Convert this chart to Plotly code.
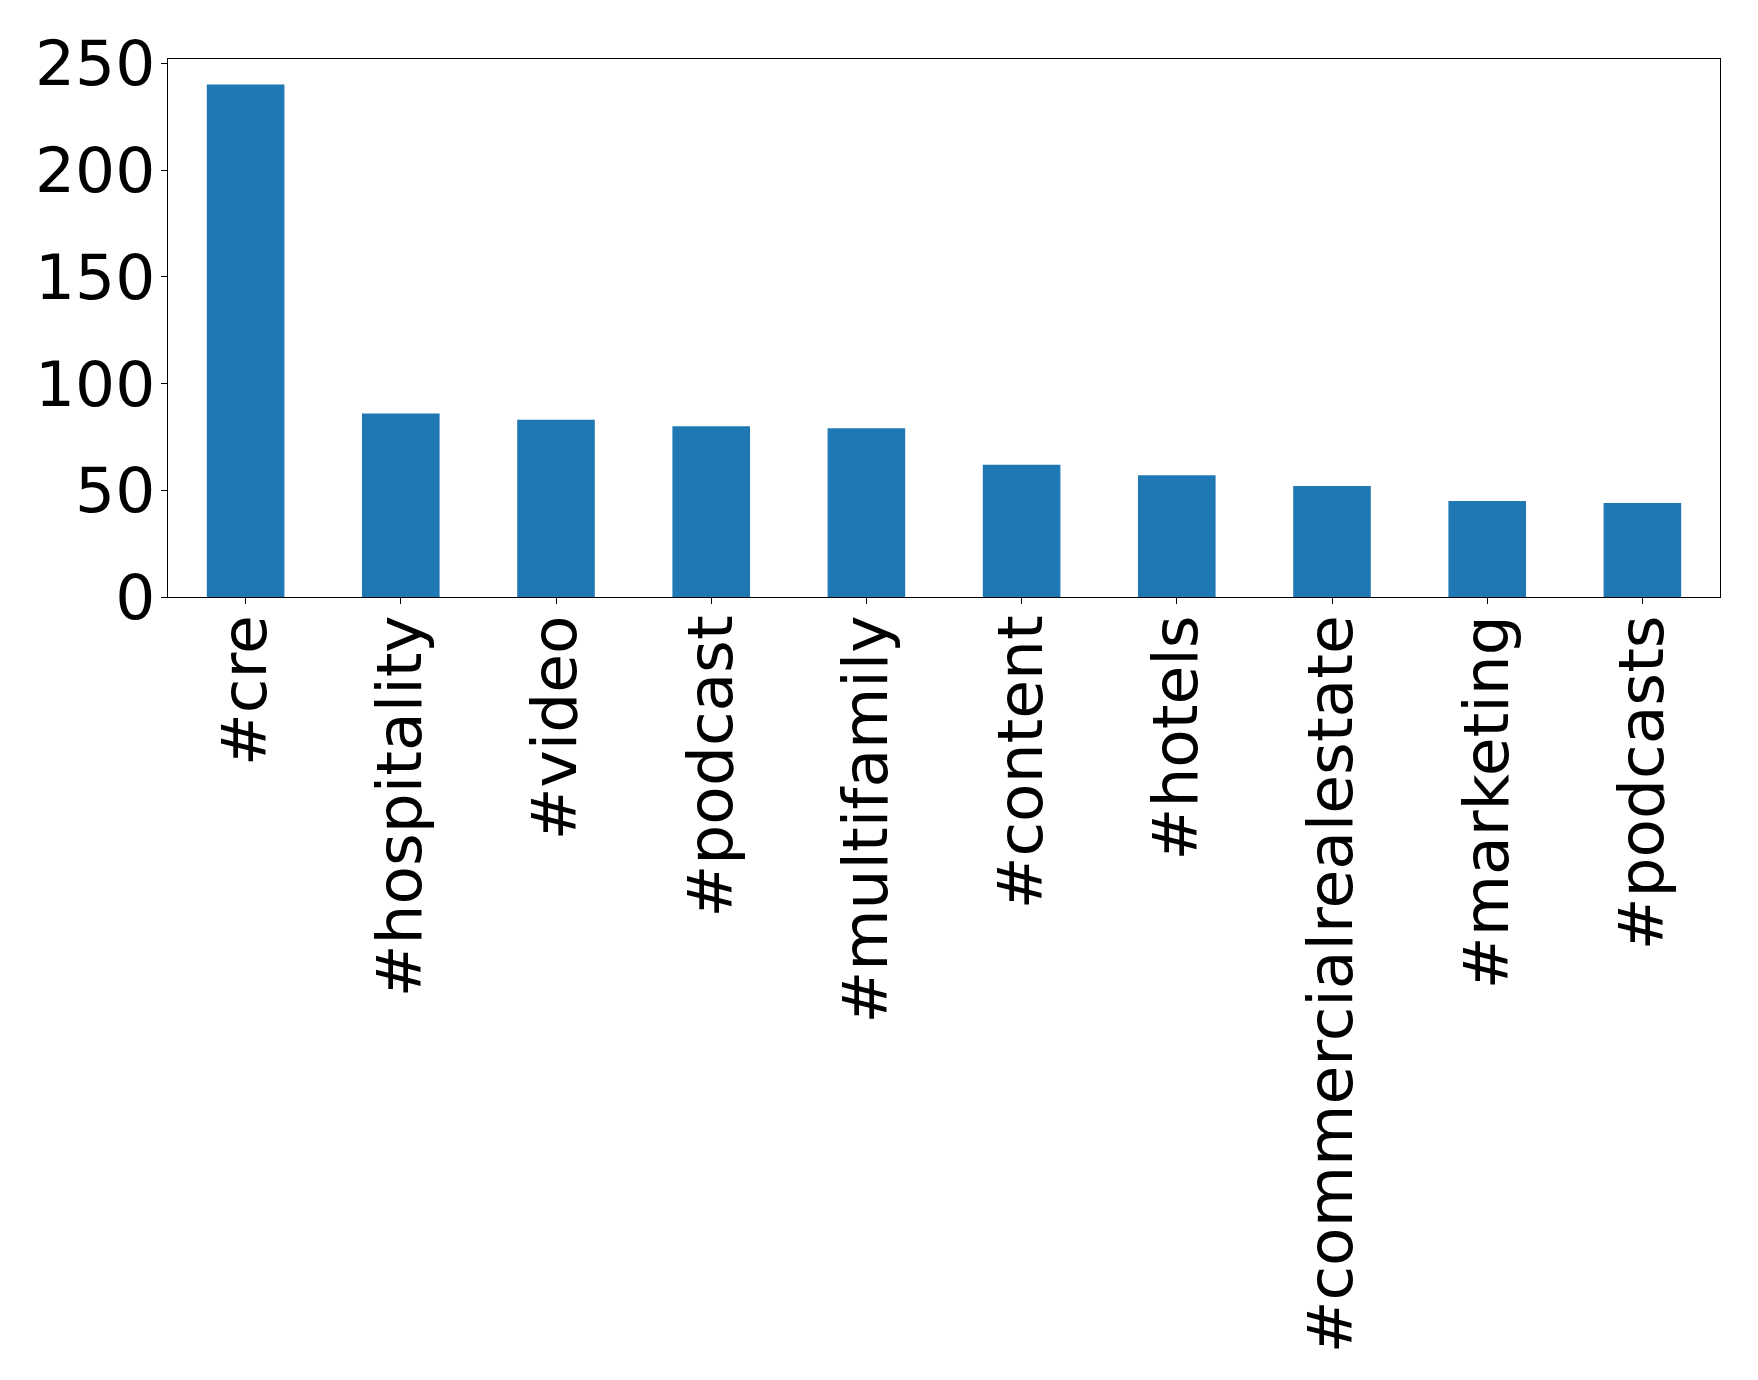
import plotly.graph_objects as go

hashtags = ["#cre", "#hospitality", "#video", "#podcast", "#multifamily",
            "#content", "#hotels", "#commercialrealestate", "#marketing", "#podcasts"]
counts = [240, 86, 83, 80, 79, 62, 57, 52, 45, 44]
y_ticks = [0, 50, 100, 150, 200, 250]

fig = go.Figure(go.Bar(x=list(range(len(hashtags))), y=counts, width=0.5,
                       marker=dict(color="#1f77b4", line=dict(width=0))))

font = dict(family="DejaVu Sans", size=63, color="black")
fig.update_layout(
    width=1742, height=1364,
    margin=dict(l=160, r=30, t=51, b=775, autoexpand=False),
    plot_bgcolor="white", paper_bgcolor="white",
    showlegend=False,
    font=font,
)
fig.update_xaxes(
    range=[-0.5, 9.5], tickmode="array", tickvals=list(range(len(hashtags))),
    ticktext=hashtags, tickangle=-90, ticks="outside", ticklen=6, tickcolor="black",
    tickwidth=1.2, showline=True, linecolor="black", linewidth=1.3, mirror=True,
    showgrid=False, zeroline=False, tickfont=font, ticklabelstandoff=-14,
)
fig.update_yaxes(
    range=[0, 252], tickmode="array", tickvals=y_ticks, ticks="outside", ticklen=6,
    tickcolor="black", tickwidth=1.2, showline=True, linecolor="black", linewidth=1.3,
    mirror=True, showgrid=False, zeroline=False, tickfont=font, ticklabelstandoff=-7,
)
fig.write_html("out.html")
